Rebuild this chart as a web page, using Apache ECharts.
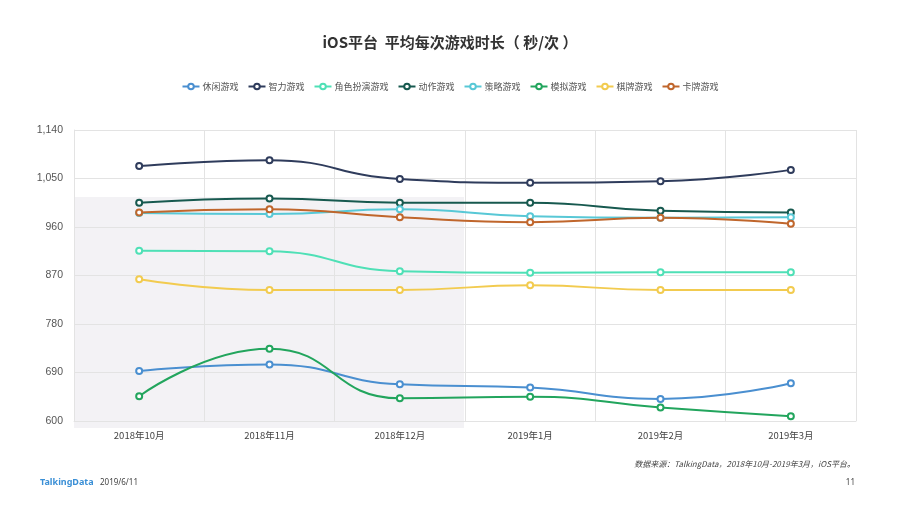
<!DOCTYPE html>
<html><head><meta charset="utf-8">
<script src="https://cdn.jsdelivr.net/npm/echarts@6/dist/echarts.min.js"></script>
<style>html,body{margin:0;padding:0;background:#fff}#c{width:900px;height:505px}</style>
</head><body><div id="c"></div>
<script>
const categories = ['2018年10月','2018年11月','2018年12月','2019年1月','2019年2月','2019年3月'];
const names = ['休闲游戏','智力游戏','角色扮演游戏','动作游戏','策略游戏','模拟游戏','棋牌游戏','卡牌游戏'];
const casual   = [693, 705, 668, 662, 641, 670];
const puzzle   = [1073, 1084, 1049, 1042, 1045, 1066];
const rpg      = [916, 915, 878, 875, 876, 876];
const action   = [1005, 1013, 1005, 1005, 990, 987];
const strategy = [986, 984, 993, 980, 977, 978];
const sim      = [646, 734, 642, 645, 625, 609];
const board    = [863, 843, 843, 852, 843, 843];
const card     = [987, 993, 978, 969, 977, 966];
const yTicks = [600, 690, 780, 870, 960, 1050, 1140];
const colors = ['#4a8fd0','#2f3c5c','#4fe0b6','#17594f','#58c8d6','#22a55d','#f2cb4f','#c0662c'];
const seriesData = [casual, puzzle, rpg, action, strategy, sim, board, card];

const chart = echarts.init(document.getElementById('c'));
chart.setOption({
  backgroundColor: '#fff',
  color: colors,
  title: {
    text: 'iOS平台  平均每次游戏时长（ 秒/次 ）',
    left: 'center', top: 30,
    textStyle: {fontSize: 15, fontWeight: 'bold', color: '#333', fontFamily: 'Noto Sans CJK SC'}
  },
  legend: {
    top: 77, left: 'center', itemWidth: 17, itemHeight: 7, itemGap: 9,
    textStyle: {fontSize: 9, color: '#555', fontFamily: 'Noto Sans CJK SC', padding: [0, 0, 0, -2]},
    data: names
  },
  graphic: [
    {type: 'rect', z: -10, shape: {x: 74, y: 197, width: 390, height: 231}, style: {fill: '#f3f2f5'}},
    {type: 'text', right: 45, top: 460, style: {text: '数据来源：TalkingData，2018年10月-2019年3月，iOS平台。', font: 'italic 8px "Noto Sans CJK SC"', fill: '#444', textAlign: 'right'}},
    {type: 'text', left: 40, top: 478, style: {text: 'TalkingData', font: 'bold 9px "Noto Sans"', fill: '#3a8fd6'}},
    {type: 'text', left: 100, top: 479, style: {text: '2019/6/11', font: '8px "Noto Sans"', fill: '#444'}},
    {type: 'text', right: 45, top: 479, style: {text: '11', font: '8px "Noto Sans"', fill: '#444'}}
  ],
  grid: {left: 74, right: 44, top: 130, bottom: 84},
  xAxis: {
    type: 'category', data: categories, boundaryGap: true,
    axisLine: {show: true, lineStyle: {color: '#e3e3e3'}},
    axisTick: {show: false},
    axisLabel: {fontSize: 9.5, color: '#444', margin: 10, fontFamily: 'Noto Sans CJK SC'},
    splitLine: {show: true, lineStyle: {color: '#e3e3e3'}}
  },
  yAxis: {
    type: 'value', min: 600, max: 1140, interval: 90,
    axisLine: {show: true, lineStyle: {color: '#e3e3e3'}},
    axisTick: {show: false},
    axisLabel: {fontSize: 10.5, color: '#555', margin: 11,
      formatter: v => v.toLocaleString('en-US')},
    splitLine: {show: true, lineStyle: {color: '#e3e3e3'}}
  },
  series: names.map((n, i) => ({
    name: n, type: 'line', data: seriesData[i], smooth: 0.5,
    symbol: 'circle', symbolSize: 6,
    lineStyle: {width: 2, color: colors[i]},
    itemStyle: {color: '#fff', borderColor: colors[i], borderWidth: 2},
    z: 2
  }))
});
</script></body></html>
